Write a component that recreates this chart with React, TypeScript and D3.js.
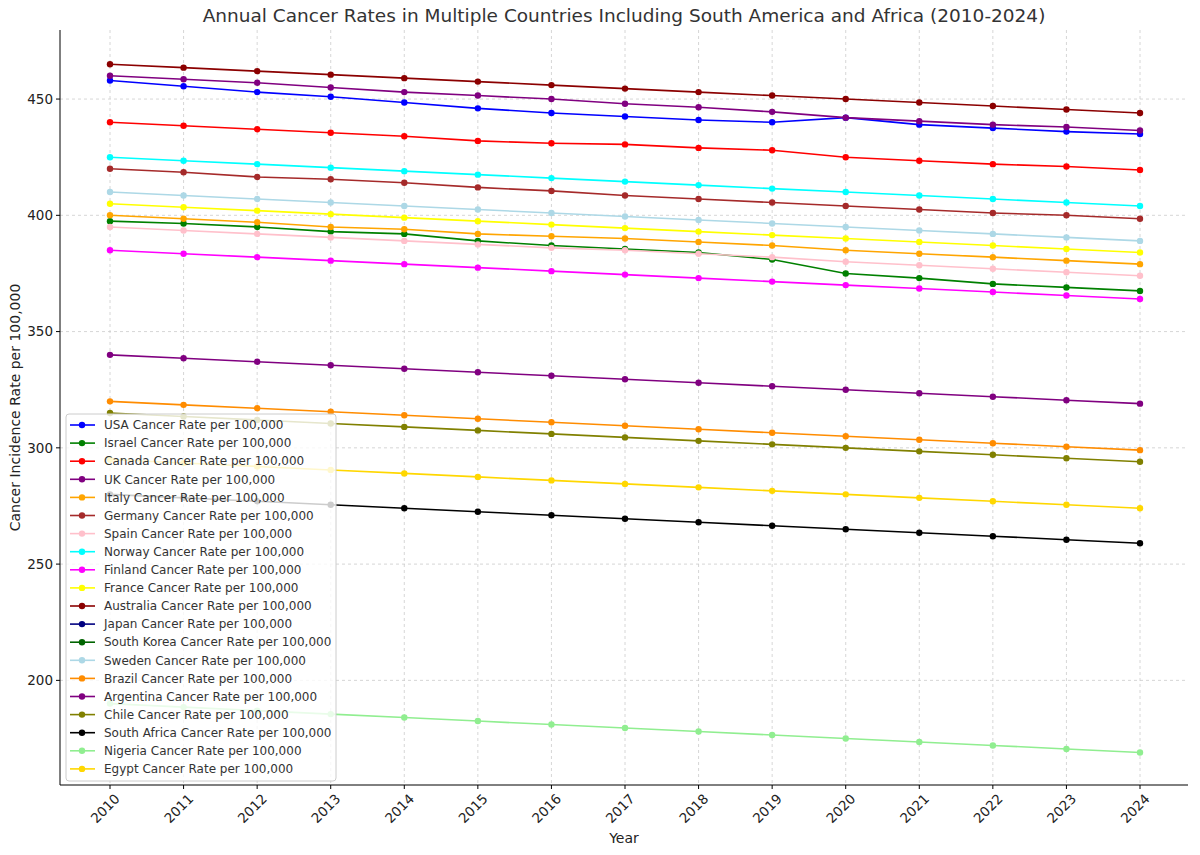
import React from "react";
import * as d3 from "d3";

const years = d3.range(2010, 2025);
const names = ["USA","Israel","Canada","UK","Italy","Germany","Spain","Norway","Finland","France","Australia","Japan","South Korea","Sweden","Brazil","Argentina","Chile","South Africa","Nigeria","Egypt"];
const colors = ["blue","green","red","purple","orange","brown","pink","cyan","magenta","yellow","darkred","navy","darkgreen","lightblue","darkorange","purple","olive","black","lightgreen","gold"];
const usa = [458,455.5,453,451,448.5,446,444,442.5,441,440,442,439,437.5,436,435];
const israel = [397.5,396.5,395,393,392,389,387,385.5,384,381,375,373,370.5,369,367.5];
const canada = [440,438.5,437,435.5,434,432,431,430.5,429,428,425,423.5,422,421,419.5];
const uk = [460,458.5,457,455,453,451.5,450,448,446.5,444.5,442,440.5,439,438,436.5];
const italy = [400,398.5,397,395,394,392,391,390,388.5,387,385,383.5,382,380.5,379];
const germany = [420,418.5,416.5,415.5,414,412,410.5,408.5,407,405.5,404,402.5,401,400,398.5];
const spain = [395,393.5,392,390.5,389,387.5,386,385,383.5,382,380,378.5,377,375.5,374];
const norway = [425,423.5,422,420.5,419,417.5,416,414.5,413,411.5,410,408.5,407,405.5,404];
const finland = [385,383.5,382,380.5,379,377.5,376,374.5,373,371.5,370,368.5,367,365.5,364];
const france = [405,403.5,402,400.5,399,397.5,396,394.5,393,391.5,390,388.5,387,385.5,384];
const australia = [465,463.5,462,460.5,459,457.5,456,454.5,453,451.5,450,448.5,447,445.5,444];
const japan: number[] = [];
const southKorea: number[] = [];
const sweden = [410,408.5,407,405.5,404,402.5,401,399.5,398,396.5,395,393.5,392,390.5,389];
const brazil = [320,318.5,317,315.5,314,312.5,311,309.5,308,306.5,305,303.5,302,300.5,299];
const argentina = [340,338.5,337,335.5,334,332.5,331,329.5,328,326.5,325,323.5,322,320.5,319];
const chile = [315,313.5,312,310.5,309,307.5,306,304.5,303,301.5,300,298.5,297,295.5,294];
const southAfrica = [280,278.5,277,275.5,274,272.5,271,269.5,268,266.5,265,263.5,262,260.5,259];
const nigeria = [190,188.5,187,185.5,184,182.5,181,179.5,178,176.5,175,173.5,172,170.5,169];
const egypt = [295,293.5,292,290.5,289,287.5,286,284.5,283,281.5,280,278.5,277,275.5,274];
const series = [usa,israel,canada,uk,italy,germany,spain,norway,finland,france,australia,japan,southKorea,sweden,brazil,argentina,chile,southAfrica,nigeria,egypt];
const yTicks = [200,250,300,350,400,450];

export default function App() {
  const L = 60, R = 1188, T = 30, B = 785;
  const x = d3.scaleLinear().domain([2010, 2024]).range([110, 1140]);
  const y = d3.scaleLinear().domain([155, 479.7]).range([B, T]);
  const line = d3.line<number>().x((_, i) => x(years[i])).y(v => y(v));
  const font = "DejaVu Sans, sans-serif";
  return (
    <svg width={1200} height={855} style={{ position: "absolute", left: 0, top: 0 }} fontFamily={font}>
      <rect width={1200} height={855} fill="white" />
      {years.map(yr => <line key={yr} x1={x(yr)} x2={x(yr)} y1={T} y2={B} stroke="#ccc" strokeDasharray="3,3" strokeWidth={0.8} />)}
      {yTicks.map(t => <line key={t} x1={L} x2={R} y1={y(t)} y2={y(t)} stroke="#ccc" strokeDasharray="3,3" strokeWidth={0.8} />)}
      {series.map((s, i) => s.length ? (
        <g key={i}>
          <path d={line(s) || ""} fill="none" stroke={colors[i]} strokeWidth={1.6} />
          {s.map((v, j) => <circle key={j} cx={x(years[j])} cy={y(v)} r={3.2} fill={colors[i]} />)}
        </g>
      ) : null)}
      <line x1={L} x2={L} y1={T} y2={B} stroke="black" />
      <line x1={L} x2={R} y1={B} y2={B} stroke="black" />
      {yTicks.map(t => (
        <g key={t}>
          <line x1={L - 4} x2={L} y1={y(t)} y2={y(t)} stroke="black" />
          <text x={L - 7} y={y(t)} dy="0.35em" textAnchor="end" fontSize={13.5} fill="#222">{t}</text>
        </g>
      ))}
      {years.map(yr => (
        <g key={yr}>
          <line x1={x(yr)} x2={x(yr)} y1={B} y2={B + 4} stroke="black" />
          <text transform={`translate(${x(yr) + 4},${B + 8}) rotate(-45)`} textAnchor="end" dy="0.7em" fontSize={13.5} fill="#222">{yr}</text>
        </g>
      ))}
      <text x={(L + R) / 2} y={843} textAnchor="middle" fontSize={14} fill="#222">Year</text>
      <text transform={`translate(20,${(T + B) / 2}) rotate(-90)`} textAnchor="middle" fontSize={14} fill="#222">Cancer Incidence Rate per 100,000</text>
      <text x={(L + R) / 2} y={22} textAnchor="middle" fontSize={18.5} fill="#333">Annual Cancer Rates in Multiple Countries Including South America and Africa (2010-2024)</text>
      <rect x={66} y={414} width={270} height={367} rx={3} fill="white" fillOpacity={0.8} stroke="#ccc" />
      {names.map((n, i) => {
        const yy = 425 + i * 18.1;
        return (
          <g key={n}>
            <line x1={70} x2={95} y1={yy} y2={yy} stroke={colors[i]} strokeWidth={1.6} />
            <circle cx={82} cy={yy} r={3.2} fill={colors[i]} />
            <text x={104} y={yy} dy="0.35em" fontSize={12} fill="#333">{n} Cancer Rate per 100,000</text>
          </g>
        );
      })}
    </svg>
  );
}
